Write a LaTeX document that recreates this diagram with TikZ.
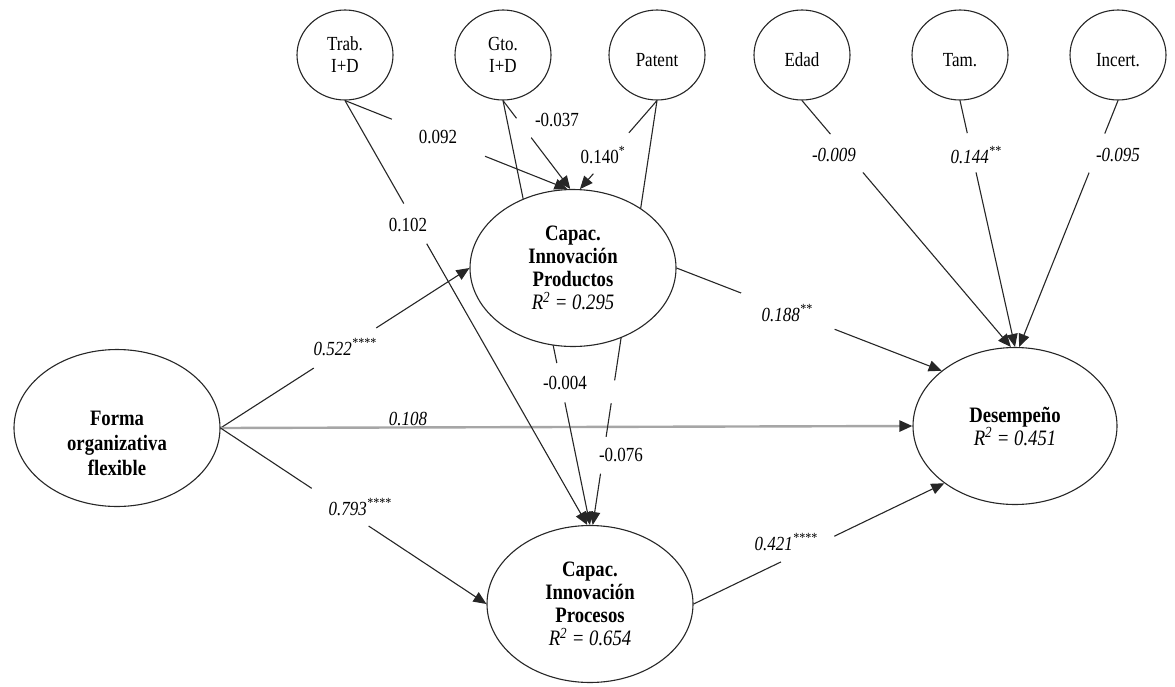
\documentclass[tikz,border=0pt]{standalone}
\usepackage{fontspec}
\setmainfont{Liberation Serif}[FakeStretch=0.85]
\usetikzlibrary{arrows.meta,backgrounds,shapes.geometric}

\tikzset{
  latent/.style={ellipse, draw=black!85, line width=1.1pt, fill=white, inner sep=0pt,
    minimum width=206pt, minimum height=157pt, align=center,
    font=\fontsize{22}{23}\selectfont\bfseries},
  ctrl/.style={ellipse, draw=black!85, line width=1.1pt, fill=white, inner sep=0pt,
    minimum width=96pt, minimum height=90pt, align=center,
    font=\fontsize{20}{22}\selectfont},
  conn/.style={draw=black!85, line width=1.1pt, -{Triangle[length=13pt,width=11pt]}},
  gap/.style={sloped, fill=white, draw=none, inner sep=0pt, minimum height=5pt},
  coef/.style={inner sep=0pt, font=\fontsize{20}{22}\selectfont},
  coefit/.style={inner sep=0pt, font=\fontsize{20}{22}\selectfont\itshape},
}
\newcommand{\rsq}[1]{{\mdseries\itshape R\textsuperscript{2} = #1}}
% single-line control labels sit slightly below the circle centre
\newcommand{\lowlbl}[1]{\raisebox{-5pt}[\height][0pt]{#1}}

\begin{document}
\begin{tikzpicture}[x=1pt,y=-1pt]
\useasboundingbox (0,0) rectangle (1175,686);

% control variables
\node[ctrl] (trab) at (345,55) {Trab.\\I+D};
\node[ctrl] (gto)  at (503,55) {Gto.\\I+D};
\node[ctrl] (pat)  at (657,55) {\lowlbl{Patent}};
\node[ctrl] (edad) at (802,55) {\lowlbl{Edad}};
\node[ctrl] (tam)  at (960,55) {\lowlbl{Tam.}};
\node[ctrl] (inc)  at (1118,55) {\lowlbl{Incert.}};

% latent constructs
\node[latent] (forma) at (117,428) {};
\node[align=center, inner sep=0pt, font=\fontsize{22}{25}\selectfont\bfseries]
  (formatxt) at (117,443) {Forma\\organizativa\\flexible};
\node[latent] (prod) at (573,268) {Capac.\\Innovación\\Productos\\\rsq{0.295}};
\node[latent] (proc) at (590,604) {Capac.\\Innovación\\Procesos\\\rsq{0.654}};
\node[latent, minimum width=204pt] (des) at (1015,426) {Desempeño\\\rsq{0.451}};

% structural paths
\begin{scope}[on background layer]
\draw[conn] (forma.east) -- node[gap,pos=.50,minimum width=74pt]{} (prod.west);
\draw[draw=gray!70, line width=2.4pt,
      -{Triangle[length=13pt,width=11pt,color=black!85,fill=black!85]}]
      (forma.east) -- (des.west);
\draw[conn] (forma.east) -- node[gap,pos=.45,minimum width=68pt]{} (proc.west);
\draw[conn] (prod.east) -- node[gap,pos=.42,minimum width=100pt]{} (des.143);
\draw[conn] (proc.east) -- node[gap,pos=.455,minimum width=59pt]{} (des.219);

\draw[conn] (trab.south) -- node[gap,pos=.42,minimum width=100pt]{} (prod.94);
\draw[conn] (trab.south) -- node[gap,pos=.29,minimum width=46pt]{} (proc.92);
\draw[conn] (gto.south) -- node[gap,pos=.31,minimum width=24pt]{} (prod.92);
\draw[conn] (gto.south) -- node[gap,pos=.665,minimum width=40pt]{} (proc.90);
\draw[conn] (pat.south) -- node[gap,pos=.595,minimum width=54pt]{} (prod.85);
\draw[conn] (pat.south) -- node[gap,pos=.686,minimum width=23pt]{}
                           node[gap,pos=.836,minimum width=37pt]{} (proc.88);

\draw[conn] (edad.south) -- node[gap,pos=.214,minimum width=50pt]{} (des.93);
\draw[conn] (tam.south)  -- node[gap,pos=.212,minimum width=40pt]{} (des.90);
\draw[conn] (inc.south)  -- node[gap,pos=.213,minimum width=42pt]{} (des.87);
\end{scope}

% path coefficients
\node[coefit] (c522) at (345,347) {0.522\textsuperscript{****}};
\node[coefit, anchor=base] (c108) at (408,425) {0.108};
\node[coefit] (c793) at (360,507) {0.793\textsuperscript{****}};
\node[coefit] (c188) at (787,313) {0.188\textsuperscript{**}};
\node[coefit] (c421) at (786,542) {0.421\textsuperscript{****}};

\node[coef] (c092) at (438,137) {0.092};
\node[coef] (c102) at (408,225) {0.102};
\node[coef] (c037) at (557,120) {-0.037};
\node[coef] (c140) at (603,155) {0.140\textsuperscript{*}};
\node[coef] (c004) at (565,383) {-0.004};
\node[coef] (c076) at (621,455) {-0.076};

\node[coefit] (c009) at (834,155) {-0.009};
\node[coefit] (c144) at (976,155) {0.144\textsuperscript{**}};
\node[coefit] (c095) at (1118,155) {-0.095};
\end{tikzpicture}
\end{document}
